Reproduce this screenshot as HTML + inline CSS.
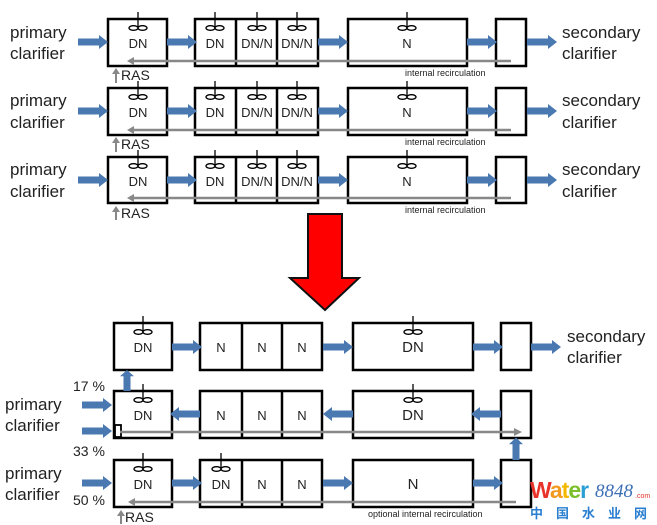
<!DOCTYPE html>
<html><head><meta charset="utf-8"><style>
html,body{margin:0;padding:0;background:#fff;width:657px;height:525px;overflow:hidden}
svg{display:block}
text{font-family:"Liberation Sans","Noto Sans CJK SC",sans-serif;fill:#222}
</style></head><body>
<svg width="657" height="525" viewBox="0 0 657 525" xmlns="http://www.w3.org/2000/svg">
<defs>
<path id="ar" d="M0,-3.5 H21 V-7 L30,0 L21,7 V3.5 H0Z" fill="#4a78b0"/>
<g id="imp" fill="none" stroke="#000" stroke-width="1.3"><line x1="0" y1="-7" x2="0" y2="8"/><ellipse cx="-4.5" cy="9" rx="4.5" ry="2.3"/><ellipse cx="4.5" cy="9" rx="4.5" ry="2.3"/></g>
<g id="gl"><path d="M0,0 L7,-4 L7,4Z" fill="#888"/></g>
</defs>
<g stroke="#000" stroke-width="2.5" fill="#fff">
<rect x="108" y="19" width="59" height="47"/><rect x="195" y="19" width="123" height="47"/><rect x="348" y="19" width="119" height="47"/><rect x="496" y="19" width="30" height="47"/>
<rect x="108" y="88" width="59" height="47"/><rect x="195" y="88" width="123" height="47"/><rect x="348" y="88" width="119" height="47"/><rect x="496" y="88" width="30" height="47"/>
<rect x="108" y="157" width="59" height="46"/><rect x="195" y="157" width="123" height="46"/><rect x="348" y="157" width="119" height="46"/><rect x="496" y="157" width="30" height="46"/>
<line x1="236" y1="19" x2="236" y2="66"/><line x1="277" y1="19" x2="277" y2="66"/>
<line x1="236" y1="88" x2="236" y2="135"/><line x1="277" y1="88" x2="277" y2="135"/>
<line x1="236" y1="157" x2="236" y2="203"/><line x1="277" y1="157" x2="277" y2="203"/>
<rect x="114" y="323" width="58" height="47"/><rect x="200" y="323" width="122" height="47"/><rect x="353" y="323" width="120" height="47"/><rect x="501" y="323" width="30" height="47"/>
<rect x="114" y="391" width="58" height="47"/><rect x="200" y="391" width="122" height="47"/><rect x="353" y="391" width="120" height="47"/><rect x="501" y="391" width="30" height="47"/>
<rect x="114" y="460" width="58" height="47"/><rect x="200" y="460" width="122" height="47"/><rect x="353" y="460" width="120" height="47"/><rect x="501" y="460" width="30" height="47"/>
<line x1="242" y1="323" x2="242" y2="370"/><line x1="282" y1="323" x2="282" y2="370"/>
<line x1="242" y1="391" x2="242" y2="438"/><line x1="282" y1="391" x2="282" y2="438"/>
<line x1="242" y1="460" x2="242" y2="507"/><line x1="282" y1="460" x2="282" y2="507"/>
<rect x="115" y="425" width="6" height="12" stroke-width="1.8"/>
</g>
<use href="#imp" x="138" y="19"/><use href="#imp" x="215" y="19"/><use href="#imp" x="257" y="19"/><use href="#imp" x="297" y="19"/><use href="#imp" x="407" y="19"/>
<use href="#imp" x="138" y="88"/><use href="#imp" x="215" y="88"/><use href="#imp" x="257" y="88"/><use href="#imp" x="297" y="88"/><use href="#imp" x="407" y="88"/>
<use href="#imp" x="138" y="157"/><use href="#imp" x="215" y="157"/><use href="#imp" x="257" y="157"/><use href="#imp" x="297" y="157"/><use href="#imp" x="407" y="157"/>
<use href="#imp" x="143" y="323"/><use href="#imp" x="413" y="323"/>
<use href="#imp" x="143" y="391"/><use href="#imp" x="413" y="391"/>
<use href="#imp" x="143" y="460"/><use href="#imp" x="221" y="460"/>
<g>
<use href="#ar" x="78" y="42"/><use href="#ar" x="167" y="42"/><use href="#ar" x="318" y="42"/><use href="#ar" x="467" y="42"/><use href="#ar" x="527" y="42"/>
<use href="#ar" x="78" y="111"/><use href="#ar" x="167" y="111"/><use href="#ar" x="318" y="111"/><use href="#ar" x="467" y="111"/><use href="#ar" x="527" y="111"/>
<use href="#ar" x="78" y="180"/><use href="#ar" x="167" y="180"/><use href="#ar" x="318" y="180"/><use href="#ar" x="467" y="180"/><use href="#ar" x="527" y="180"/>
</g>
<g stroke="#888" stroke-width="2.5">
<line x1="132" y1="61" x2="511" y2="61"/><line x1="132" y1="130" x2="511" y2="130"/><line x1="132" y1="198" x2="511" y2="198"/>
<line x1="116" y1="83" x2="116" y2="72" stroke-width="2"/><line x1="116" y1="152" x2="116" y2="141" stroke-width="2"/><line x1="116" y1="220" x2="116" y2="210" stroke-width="2"/>
<line x1="120" y1="432" x2="515" y2="432"/><line x1="132" y1="502" x2="516" y2="502"/>
<line x1="121" y1="524" x2="121" y2="514" stroke-width="2"/>
</g>
<use href="#gl" x="127" y="61"/><use href="#gl" x="127" y="130"/><use href="#gl" x="127" y="198"/><use href="#gl" x="128" y="502"/>
<path d="M522,432 L514,428 L514,436Z" fill="#888"/>
<path d="M116,68 L112,74 L120,74Z" fill="#888"/><path d="M116,137 L112,143 L120,143Z" fill="#888"/><path d="M116,206 L112,212 L120,212Z" fill="#888"/><path d="M121,510 L117,516 L125,516Z" fill="#888"/>
<path d="M308,214 H342 V278 H359 L325,310 L290,278 H308Z" fill="#f00" stroke="#111" stroke-width="2"/>
<use href="#ar" x="172" y="347"/><use href="#ar" x="323" y="347"/><use href="#ar" x="473" y="347"/><use href="#ar" x="531" y="347"/>
<use href="#ar" transform="translate(200,414) rotate(180)"/><use href="#ar" transform="translate(353,414) rotate(180)"/><use href="#ar" transform="translate(501,414) rotate(180)"/>
<use href="#ar" transform="translate(127,391) rotate(-90) scale(0.7,1)"/>
<use href="#ar" transform="translate(516,460) rotate(-90) scale(0.75,1)"/>
<use href="#ar" x="82" y="405"/><use href="#ar" x="82" y="431"/>
<use href="#ar" x="82" y="483"/><use href="#ar" x="172" y="483"/><use href="#ar" x="323" y="483"/><use href="#ar" x="473" y="483"/>
<g font-size="17">
<text x="10" y="38">primary</text><text x="10" y="59">clarifier</text>
<text x="10" y="106">primary</text><text x="10" y="128">clarifier</text>
<text x="10" y="175">primary</text><text x="10" y="197">clarifier</text>
<text x="562" y="38">secondary</text><text x="562" y="59">clarifier</text>
<text x="562" y="106">secondary</text><text x="562" y="128">clarifier</text>
<text x="562" y="175">secondary</text><text x="562" y="197">clarifier</text>
<text x="567" y="342">secondary</text><text x="567" y="363">clarifier</text>
<text x="5" y="410">primary</text><text x="5" y="431">clarifier</text>
<text x="5" y="479">primary</text><text x="5" y="500">clarifier</text>
</g>
<g font-size="14">
<text x="121" y="80">RAS</text><text x="121" y="149">RAS</text><text x="121" y="218">RAS</text><text x="125" y="522">RAS</text>
<text x="73" y="391">17 %</text><text x="73" y="456">33 %</text><text x="73" y="505">50 %</text>
</g>
<g font-size="13" text-anchor="middle">
<text x="138" y="48">DN</text><text x="215" y="48">DN</text><text x="257" y="48">DN/N</text><text x="297" y="48">DN/N</text><text x="407" y="48">N</text>
<text x="138" y="117">DN</text><text x="215" y="117">DN</text><text x="257" y="117">DN/N</text><text x="297" y="117">DN/N</text><text x="407" y="117">N</text>
<text x="138" y="186">DN</text><text x="215" y="186">DN</text><text x="257" y="186">DN/N</text><text x="297" y="186">DN/N</text><text x="407" y="186">N</text>
<text x="143" y="352">DN</text><text x="221" y="352">N</text><text x="262" y="352">N</text><text x="302" y="352">N</text><text x="413" y="352" font-size="15">DN</text>
<text x="143" y="420">DN</text><text x="221" y="420">N</text><text x="262" y="420">N</text><text x="302" y="420">N</text><text x="413" y="420" font-size="15">DN</text>
<text x="143" y="489">DN</text><text x="221" y="489">DN</text><text x="262" y="489">N</text><text x="302" y="489">N</text><text x="413" y="489" font-size="15">N</text>
</g>
<g font-size="9">
<text x="405" y="76">internal recirculation</text><text x="405" y="145">internal recirculation</text><text x="405" y="213">internal recirculation</text>
<text x="368" y="517">optional internal recirculation</text>
</g>
<text x="530" y="498" font-size="23" font-weight="bold" style="letter-spacing:-1px"><tspan fill="#e8332a">W</tspan><tspan fill="#f39a1e">a</tspan><tspan fill="#f5b800">t</tspan><tspan fill="#7bbf2a">e</tspan><tspan fill="#2a9fd6">r</tspan></text>
<text x="595" y="497" font-size="19" font-style="italic" style="font-family:'Liberation Serif',serif;fill:#3d6fb6">8848</text>
<text x="635" y="498" font-size="7" style="fill:#e8332a">.com</text>
<text x="530" y="518" font-size="13" font-weight="bold" style="letter-spacing:13px;fill:#2a7fd0">中国水业网</text>
</svg>
</body></html>
